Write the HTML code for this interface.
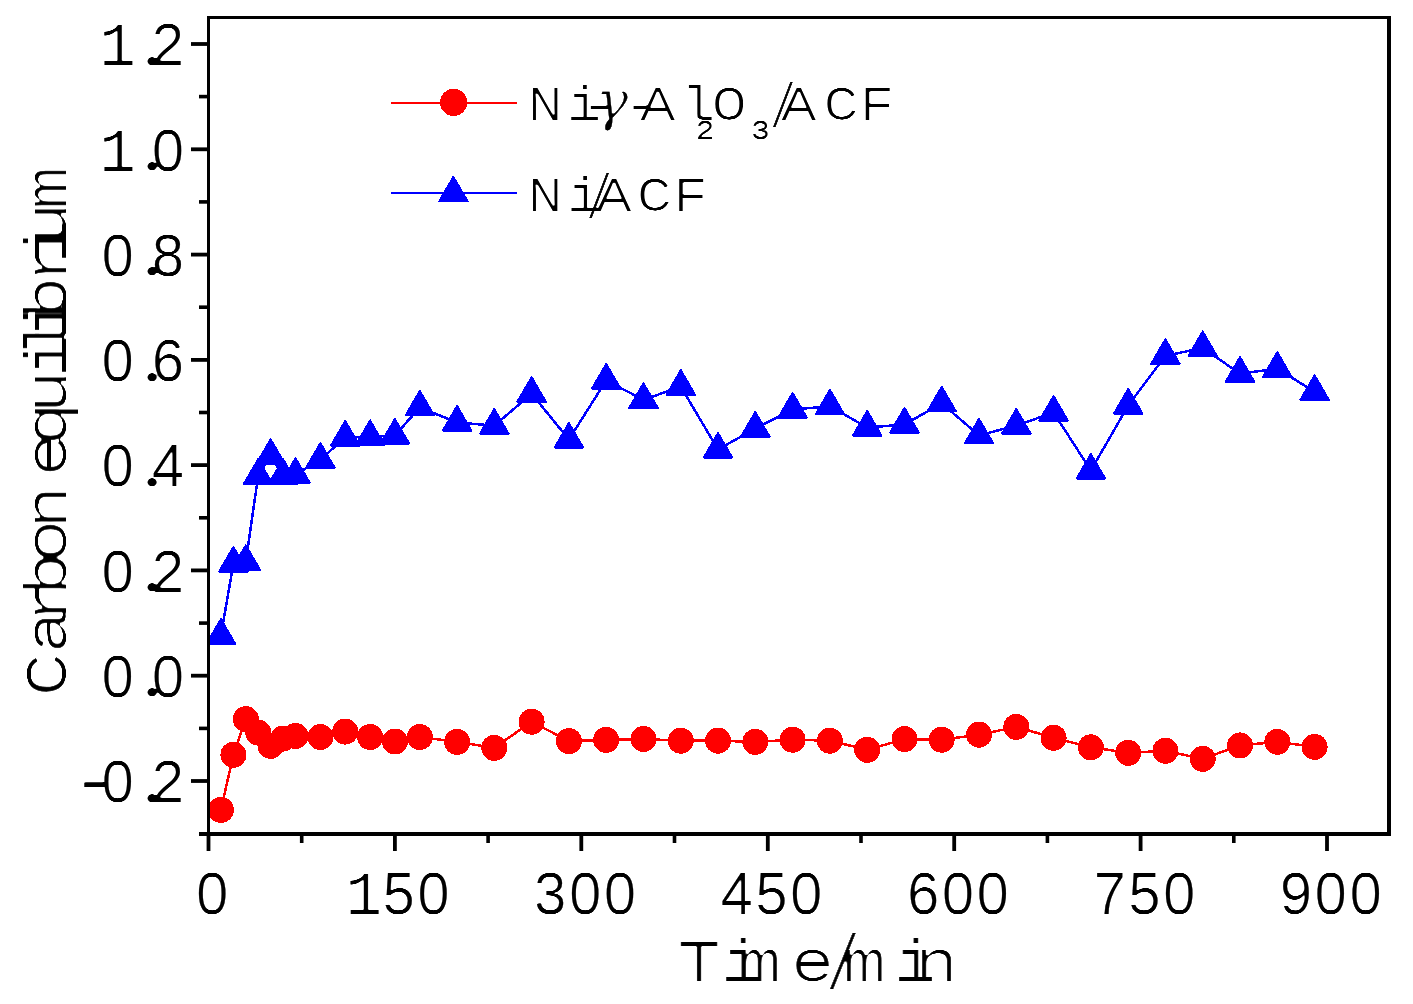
<!DOCTYPE html>
<html lang="en"><head><meta charset="utf-8"><title>Carbon equilibrium vs Time</title>
<style>html,body{margin:0;padding:0;background:#fff;}body{width:1413px;height:1004px;overflow:hidden;}svg{display:block;}text{font-family:"Liberation Mono", "DejaVu Sans Mono", monospace;fill:#000;text-anchor:middle;}.fs{font-family:"Liberation Sans", "DejaVu Sans", sans-serif;}.fr{font-family:"Liberation Serif", "DejaVu Serif", serif;}.fm{font-family:"Liberation Mono", "DejaVu Sans Mono", monospace;}.fi{font-family:"DejaVu Serif","Liberation Serif",serif;font-style:italic;}</style></head><body>
<svg width="1413" height="1004" viewBox="0 0 1413 1004">
<defs><clipPath id="plot"><rect x="210" y="19" width="1177" height="813"/></clipPath><filter id="e0" x="-15%" y="-15%" width="130%" height="130%" color-interpolation-filters="sRGB"><feConvolveMatrix order="7 1" kernelMatrix="0.0060 0.0606 0.2418 0.3831 0.2418 0.0606 0.0060" divisor="1" edgeMode="none" preserveAlpha="false"/><feComponentTransfer><feFuncA type="linear" slope="3.0" intercept="-1.574"/></feComponentTransfer></filter><filter id="e1" x="-15%" y="-15%" width="130%" height="130%" color-interpolation-filters="sRGB"><feConvolveMatrix order="7 1" kernelMatrix="0.0056 0.0594 0.2420 0.3860 0.2420 0.0594 0.0056" divisor="1" edgeMode="none" preserveAlpha="false"/><feConvolveMatrix order="1 3" kernelMatrix="0.0001 0.9998 0.0001" divisor="1" edgeMode="none" preserveAlpha="false"/><feComponentTransfer><feFuncA type="linear" slope="5.0" intercept="-3.925"/></feComponentTransfer></filter><filter id="e2" x="-15%" y="-15%" width="130%" height="130%" color-interpolation-filters="sRGB"><feConvolveMatrix order="3 1" kernelMatrix="0.0001 0.9998 0.0001" divisor="1" edgeMode="none" preserveAlpha="false"/><feConvolveMatrix order="1 7" kernelMatrix="0.0056 0.0594 0.2420 0.3860 0.2420 0.0594 0.0056" divisor="1" edgeMode="none" preserveAlpha="false"/><feComponentTransfer><feFuncA type="linear" slope="5.0" intercept="-3.925"/></feComponentTransfer></filter><filter id="e3" x="-15%" y="-15%" width="130%" height="130%" color-interpolation-filters="sRGB"><feConvolveMatrix order="7 1" kernelMatrix="0.0003 0.0201 0.2273 0.5046 0.2273 0.0201 0.0003" divisor="1" edgeMode="none" preserveAlpha="false"/><feComponentTransfer><feFuncA type="linear" slope="5.0" intercept="-3.925"/></feComponentTransfer></filter></defs>
<rect x="0" y="0" width="1413" height="1004" fill="#fff"/>
<g clip-path="url(#plot)" shape-rendering="crispEdges">
<polyline points="220.9,635.7 233.4,563.5 245.8,561.8 258.2,475.7 270.6,455.8 283.1,475.7 295.5,474.7 320.4,459.6 345.2,437.5 370.1,437.0 394.9,435.5 419.8,407.4 457.1,422.5 494.3,425.6 531.6,393.7 568.9,439.5 606.2,380.5 643.5,399.8 680.8,386.7 718.0,449.5 755.3,428.5 792.6,409.5 829.9,406.3 867.2,427.5 904.5,424.5 941.7,403.3 979.0,435.4 1016.3,425.5 1053.6,412.6 1090.9,470.5 1128.2,405.5 1165.4,355.8 1202.7,348.0 1240.0,373.6 1277.3,368.7 1314.6,391.8" fill="none" stroke="#00f" stroke-width="2.5"/>
<polygon points="206.5,643.8 235.3,643.8 220.9,619.0" fill="#00f" stroke="#00f" stroke-width="1.8" stroke-linejoin="round"/>
<polygon points="219.0,571.6 247.8,571.6 233.4,546.8" fill="#00f" stroke="#00f" stroke-width="1.8" stroke-linejoin="round"/>
<polygon points="231.4,569.9 260.2,569.9 245.8,545.1" fill="#00f" stroke="#00f" stroke-width="1.8" stroke-linejoin="round"/>
<polygon points="243.8,483.8 272.6,483.8 258.2,459.0" fill="#00f" stroke="#00f" stroke-width="1.8" stroke-linejoin="round"/>
<polygon points="256.2,463.9 285.0,463.9 270.6,439.1" fill="#00f" stroke="#00f" stroke-width="1.8" stroke-linejoin="round"/>
<polygon points="268.7,483.8 297.5,483.8 283.1,459.0" fill="#00f" stroke="#00f" stroke-width="1.8" stroke-linejoin="round"/>
<polygon points="281.1,482.8 309.9,482.8 295.5,458.0" fill="#00f" stroke="#00f" stroke-width="1.8" stroke-linejoin="round"/>
<polygon points="306.0,467.7 334.8,467.7 320.4,442.9" fill="#00f" stroke="#00f" stroke-width="1.8" stroke-linejoin="round"/>
<polygon points="330.8,445.6 359.6,445.6 345.2,420.8" fill="#00f" stroke="#00f" stroke-width="1.8" stroke-linejoin="round"/>
<polygon points="355.7,445.1 384.5,445.1 370.1,420.3" fill="#00f" stroke="#00f" stroke-width="1.8" stroke-linejoin="round"/>
<polygon points="380.5,443.6 409.3,443.6 394.9,418.8" fill="#00f" stroke="#00f" stroke-width="1.8" stroke-linejoin="round"/>
<polygon points="405.4,415.5 434.2,415.5 419.8,390.7" fill="#00f" stroke="#00f" stroke-width="1.8" stroke-linejoin="round"/>
<polygon points="442.7,430.6 471.5,430.6 457.1,405.8" fill="#00f" stroke="#00f" stroke-width="1.8" stroke-linejoin="round"/>
<polygon points="479.9,433.7 508.7,433.7 494.3,408.9" fill="#00f" stroke="#00f" stroke-width="1.8" stroke-linejoin="round"/>
<polygon points="517.2,401.8 546.0,401.8 531.6,377.0" fill="#00f" stroke="#00f" stroke-width="1.8" stroke-linejoin="round"/>
<polygon points="554.5,447.6 583.3,447.6 568.9,422.8" fill="#00f" stroke="#00f" stroke-width="1.8" stroke-linejoin="round"/>
<polygon points="591.8,388.6 620.6,388.6 606.2,363.8" fill="#00f" stroke="#00f" stroke-width="1.8" stroke-linejoin="round"/>
<polygon points="629.1,407.9 657.9,407.9 643.5,383.1" fill="#00f" stroke="#00f" stroke-width="1.8" stroke-linejoin="round"/>
<polygon points="666.4,394.8 695.2,394.8 680.8,370.0" fill="#00f" stroke="#00f" stroke-width="1.8" stroke-linejoin="round"/>
<polygon points="703.6,457.6 732.4,457.6 718.0,432.8" fill="#00f" stroke="#00f" stroke-width="1.8" stroke-linejoin="round"/>
<polygon points="740.9,436.6 769.7,436.6 755.3,411.8" fill="#00f" stroke="#00f" stroke-width="1.8" stroke-linejoin="round"/>
<polygon points="778.2,417.6 807.0,417.6 792.6,392.8" fill="#00f" stroke="#00f" stroke-width="1.8" stroke-linejoin="round"/>
<polygon points="815.5,414.4 844.3,414.4 829.9,389.6" fill="#00f" stroke="#00f" stroke-width="1.8" stroke-linejoin="round"/>
<polygon points="852.8,435.6 881.6,435.6 867.2,410.8" fill="#00f" stroke="#00f" stroke-width="1.8" stroke-linejoin="round"/>
<polygon points="890.1,432.6 918.9,432.6 904.5,407.8" fill="#00f" stroke="#00f" stroke-width="1.8" stroke-linejoin="round"/>
<polygon points="927.3,411.4 956.1,411.4 941.7,386.6" fill="#00f" stroke="#00f" stroke-width="1.8" stroke-linejoin="round"/>
<polygon points="964.6,443.5 993.4,443.5 979.0,418.7" fill="#00f" stroke="#00f" stroke-width="1.8" stroke-linejoin="round"/>
<polygon points="1001.9,433.6 1030.7,433.6 1016.3,408.8" fill="#00f" stroke="#00f" stroke-width="1.8" stroke-linejoin="round"/>
<polygon points="1039.2,420.7 1068.0,420.7 1053.6,395.9" fill="#00f" stroke="#00f" stroke-width="1.8" stroke-linejoin="round"/>
<polygon points="1076.5,478.6 1105.3,478.6 1090.9,453.8" fill="#00f" stroke="#00f" stroke-width="1.8" stroke-linejoin="round"/>
<polygon points="1113.8,413.6 1142.6,413.6 1128.2,388.8" fill="#00f" stroke="#00f" stroke-width="1.8" stroke-linejoin="round"/>
<polygon points="1151.0,363.9 1179.8,363.9 1165.4,339.1" fill="#00f" stroke="#00f" stroke-width="1.8" stroke-linejoin="round"/>
<polygon points="1188.3,356.1 1217.1,356.1 1202.7,331.3" fill="#00f" stroke="#00f" stroke-width="1.8" stroke-linejoin="round"/>
<polygon points="1225.6,381.7 1254.4,381.7 1240.0,356.9" fill="#00f" stroke="#00f" stroke-width="1.8" stroke-linejoin="round"/>
<polygon points="1262.9,376.8 1291.7,376.8 1277.3,352.0" fill="#00f" stroke="#00f" stroke-width="1.8" stroke-linejoin="round"/>
<polygon points="1300.2,399.9 1329.0,399.9 1314.6,375.1" fill="#00f" stroke="#00f" stroke-width="1.8" stroke-linejoin="round"/>
<polyline points="220.9,809.9 233.4,754.8 245.8,719.1 258.2,732.6 270.6,745.9 283.1,738.6 295.5,736.0 320.4,737.0 345.2,731.6 370.1,737.0 394.9,741.5 419.8,737.0 457.1,741.9 494.3,747.9 531.6,721.7 568.9,741.1 606.2,739.9 643.5,739.0 680.8,740.7 718.0,740.7 755.3,741.9 792.6,739.7 829.9,740.7 867.2,749.8 904.5,739.1 941.7,739.7 979.0,734.7 1016.3,726.9 1053.6,737.8 1090.9,747.3 1128.2,752.8 1165.4,750.8 1202.7,758.9 1240.0,745.4 1277.3,741.9 1314.6,746.9" fill="none" stroke="#f00" stroke-width="2.5"/>
<circle cx="220.9" cy="809.9" r="13.0" fill="#f00"/>
<circle cx="233.4" cy="754.8" r="13.0" fill="#f00"/>
<circle cx="245.8" cy="719.1" r="13.0" fill="#f00"/>
<circle cx="258.2" cy="732.6" r="13.0" fill="#f00"/>
<circle cx="270.6" cy="745.9" r="13.0" fill="#f00"/>
<circle cx="283.1" cy="738.6" r="13.0" fill="#f00"/>
<circle cx="295.5" cy="736.0" r="13.0" fill="#f00"/>
<circle cx="320.4" cy="737.0" r="13.0" fill="#f00"/>
<circle cx="345.2" cy="731.6" r="13.0" fill="#f00"/>
<circle cx="370.1" cy="737.0" r="13.0" fill="#f00"/>
<circle cx="394.9" cy="741.5" r="13.0" fill="#f00"/>
<circle cx="419.8" cy="737.0" r="13.0" fill="#f00"/>
<circle cx="457.1" cy="741.9" r="13.0" fill="#f00"/>
<circle cx="494.3" cy="747.9" r="13.0" fill="#f00"/>
<circle cx="531.6" cy="721.7" r="13.0" fill="#f00"/>
<circle cx="568.9" cy="741.1" r="13.0" fill="#f00"/>
<circle cx="606.2" cy="739.9" r="13.0" fill="#f00"/>
<circle cx="643.5" cy="739.0" r="13.0" fill="#f00"/>
<circle cx="680.8" cy="740.7" r="13.0" fill="#f00"/>
<circle cx="718.0" cy="740.7" r="13.0" fill="#f00"/>
<circle cx="755.3" cy="741.9" r="13.0" fill="#f00"/>
<circle cx="792.6" cy="739.7" r="13.0" fill="#f00"/>
<circle cx="829.9" cy="740.7" r="13.0" fill="#f00"/>
<circle cx="867.2" cy="749.8" r="13.0" fill="#f00"/>
<circle cx="904.5" cy="739.1" r="13.0" fill="#f00"/>
<circle cx="941.7" cy="739.7" r="13.0" fill="#f00"/>
<circle cx="979.0" cy="734.7" r="13.0" fill="#f00"/>
<circle cx="1016.3" cy="726.9" r="13.0" fill="#f00"/>
<circle cx="1053.6" cy="737.8" r="13.0" fill="#f00"/>
<circle cx="1090.9" cy="747.3" r="13.0" fill="#f00"/>
<circle cx="1128.2" cy="752.8" r="13.0" fill="#f00"/>
<circle cx="1165.4" cy="750.8" r="13.0" fill="#f00"/>
<circle cx="1202.7" cy="758.9" r="13.0" fill="#f00"/>
<circle cx="1240.0" cy="745.4" r="13.0" fill="#f00"/>
<circle cx="1277.3" cy="741.9" r="13.0" fill="#f00"/>
<circle cx="1314.6" cy="746.9" r="13.0" fill="#f00"/>
</g>
<g fill="#000">
<rect x="207" y="16" width="3" height="820"/>
<rect x="207" y="16" width="1184" height="3"/>
<rect x="1387" y="16" width="4" height="820"/>
<rect x="199" y="832" width="1192" height="4"/>
<rect x="191" y="779.1" width="17" height="3.8"/>
<rect x="191" y="673.8" width="17" height="3.8"/>
<rect x="191" y="568.5" width="17" height="3.8"/>
<rect x="191" y="463.2" width="17" height="3.8"/>
<rect x="191" y="358.0" width="17" height="3.8"/>
<rect x="191" y="252.7" width="17" height="3.8"/>
<rect x="191" y="147.4" width="17" height="3.8"/>
<rect x="191" y="42.1" width="17" height="3.8"/>
<rect x="199" y="726.6" width="9" height="3.6"/>
<rect x="199" y="621.3" width="9" height="3.6"/>
<rect x="199" y="516.0" width="9" height="3.6"/>
<rect x="199" y="410.7" width="9" height="3.6"/>
<rect x="199" y="305.4" width="9" height="3.6"/>
<rect x="199" y="200.1" width="9" height="3.6"/>
<rect x="199" y="94.8" width="9" height="3.6"/>
<rect x="206.6" y="834" width="3.8" height="17"/>
<rect x="393.0" y="834" width="3.8" height="17"/>
<rect x="579.4" y="834" width="3.8" height="17"/>
<rect x="765.9" y="834" width="3.8" height="17"/>
<rect x="952.3" y="834" width="3.8" height="17"/>
<rect x="1138.7" y="834" width="3.8" height="17"/>
<rect x="1325.1" y="834" width="3.8" height="17"/>
<rect x="299.9" y="834" width="3.6" height="9"/>
<rect x="486.3" y="834" width="3.6" height="9"/>
<rect x="672.7" y="834" width="3.6" height="9"/>
<rect x="859.2" y="834" width="3.6" height="9"/>
<rect x="1045.6" y="834" width="3.6" height="9"/>
<rect x="1232.0" y="834" width="3.6" height="9"/>
</g>
<g shape-rendering="crispEdges">
<line x1="391" y1="102.5" x2="516.5" y2="102.5" stroke="#f00" stroke-width="2"/>
<circle cx="453.6" cy="102.4" r="13.6" fill="#f00"/>
<line x1="391" y1="192.5" x2="516.5" y2="192.5" stroke="#00f" stroke-width="2"/>
<polygon points="439.0,201.5 467.8,201.5 453.4,176.7" fill="#00f" stroke="#00f" stroke-width="1.8" stroke-linejoin="round"/>
</g>
<g filter="url(#e0)"><text class="fs" x="117.6 152.0 168.0" y="65.2 64.6 65.2" font-size="58.3"><tspan class="fm" font-size="61.0">1</tspan><tspan class="fr" font-size="71.0" textLength="21.7" lengthAdjust="spacingAndGlyphs">.</tspan>2</text></g>
<g filter="url(#e0)"><text class="fs" x="117.6 152.0 168.0" y="170.5 169.9 170.5" font-size="58.3"><tspan class="fm" font-size="61.0">1</tspan><tspan class="fr" font-size="71.0" textLength="21.7" lengthAdjust="spacingAndGlyphs">.</tspan>0</text></g>
<g filter="url(#e0)"><text class="fs" x="117.6 152.0 168.0" y="275.8 275.2 275.8" font-size="58.3">0<tspan class="fr" font-size="71.0" textLength="21.7" lengthAdjust="spacingAndGlyphs">.</tspan>8</text></g>
<g filter="url(#e0)"><text class="fs" x="117.6 152.0 168.0" y="381.1 380.5 381.1" font-size="58.3">0<tspan class="fr" font-size="71.0" textLength="21.7" lengthAdjust="spacingAndGlyphs">.</tspan>6</text></g>
<g filter="url(#e0)"><text class="fs" x="117.6 152.0 168.0" y="486.3 485.7 486.3" font-size="58.3">0<tspan class="fr" font-size="71.0" textLength="21.7" lengthAdjust="spacingAndGlyphs">.</tspan>4</text></g>
<g filter="url(#e0)"><text class="fs" x="117.6 152.0 168.0" y="591.6 591.0 591.6" font-size="58.3">0<tspan class="fr" font-size="71.0" textLength="21.7" lengthAdjust="spacingAndGlyphs">.</tspan>2</text></g>
<g filter="url(#e0)"><text class="fs" x="117.6 152.0 168.0" y="696.9 696.3 696.9" font-size="58.3">0<tspan class="fr" font-size="71.0" textLength="21.7" lengthAdjust="spacingAndGlyphs">.</tspan>0</text></g>
<g filter="url(#e0)"><text class="fs" x="95.5 117.6 152.0 168.0" y="801.4 802.2 801.6 802.2" font-size="58.3"><tspan class="fm" font-size="62.0" textLength="51.3" lengthAdjust="spacingAndGlyphs">-</tspan>0<tspan class="fr" font-size="71.0" textLength="21.7" lengthAdjust="spacingAndGlyphs">.</tspan>2</text></g>
<g filter="url(#e0)"><text class="fs" x="212.3" y="914.2" font-size="58.3">0</text></g>
<g filter="url(#e0)"><text class="fs" x="363.9 398.7 433.5" y="914.2" font-size="58.3"><tspan class="fm" font-size="61.0">1</tspan>50</text></g>
<g filter="url(#e0)"><text class="fs" x="550.3 585.1 619.9" y="914.2" font-size="58.3">300</text></g>
<g filter="url(#e0)"><text class="fs" x="736.8 771.5 806.3" y="914.2" font-size="58.3">450</text></g>
<g filter="url(#e0)"><text class="fs" x="923.2 958.0 992.8" y="914.2" font-size="58.3">600</text></g>
<g filter="url(#e0)"><text class="fs" x="1109.6 1144.4 1179.2" y="914.2" font-size="58.3">750</text></g>
<g filter="url(#e0)"><text class="fs" x="1296.0 1330.8 1365.6" y="914.2" font-size="58.3">900</text></g>
<g filter="url(#e1)"><text transform="scale(1.250,1)" x="559.2 593.6 607.6 650.1 674.4 691.5 731.8 749.2" y="981.0 981.0 981.0 981.0 988.4 981.0 981.0 981.0" font-size="59.5">Time<tspan font-size="76.8" textLength="27.0" lengthAdjust="spacingAndGlyphs" stroke="#000" stroke-width="1.2">/</tspan>min</text></g>
<g filter="url(#e2)"><text transform="translate(66.0,0) rotate(-90) scale(1.250,1)" x="-539.7 -505.3 -481.6 -459.2 -433.0 -405.8 -384.8 -364.0 -339.2 -313.6 -284.8 -269.6 -254.4 -238.4 -209.6 -193.6 -179.2 -150.4" y="0.0" font-size="59.5">Carbon equilibrium</text></g>
<g filter="url(#e3)"><text transform="scale(1.270,1)" x="429.4 459.9 471.9 481.9 505.4 517.9 549.6 555.1 574.3 598.9 616.5 628.9 662.2 690.5" y="120.2 120.2 120.2 120.0 120.2 120.2 120.2 138.9 120.2 138.9 126.1 120.2 120.2 120.2" font-size="47.2">Ni<tspan textLength="32.6" lengthAdjust="spacingAndGlyphs">-</tspan><tspan class="fi" font-size="55.0" textLength="25.9" lengthAdjust="spacingAndGlyphs" stroke="#000" stroke-width="0.5">γ</tspan><tspan textLength="32.6" lengthAdjust="spacingAndGlyphs">-</tspan>Al<tspan class="fs" font-size="26.5" textLength="13.9" lengthAdjust="spacingAndGlyphs" stroke="#000" stroke-width="1.3">2</tspan>O<tspan class="fs" font-size="26.5" textLength="13.9" lengthAdjust="spacingAndGlyphs" stroke="#000" stroke-width="1.3">3</tspan><tspan font-size="60.9" textLength="20.3" lengthAdjust="spacingAndGlyphs" stroke="#000" stroke-width="1.2">/</tspan>ACF</text></g>
<g filter="url(#e3)"><text transform="scale(1.270,1)" x="429.4 460.1 471.7 483.5 515.2 543.6" y="211.0 211.0 216.9 211.0 211.0 211.0" font-size="47.2">Ni<tspan font-size="60.9" textLength="20.3" lengthAdjust="spacingAndGlyphs" stroke="#000" stroke-width="1.2">/</tspan>ACF</text></g>
</svg></body></html>
